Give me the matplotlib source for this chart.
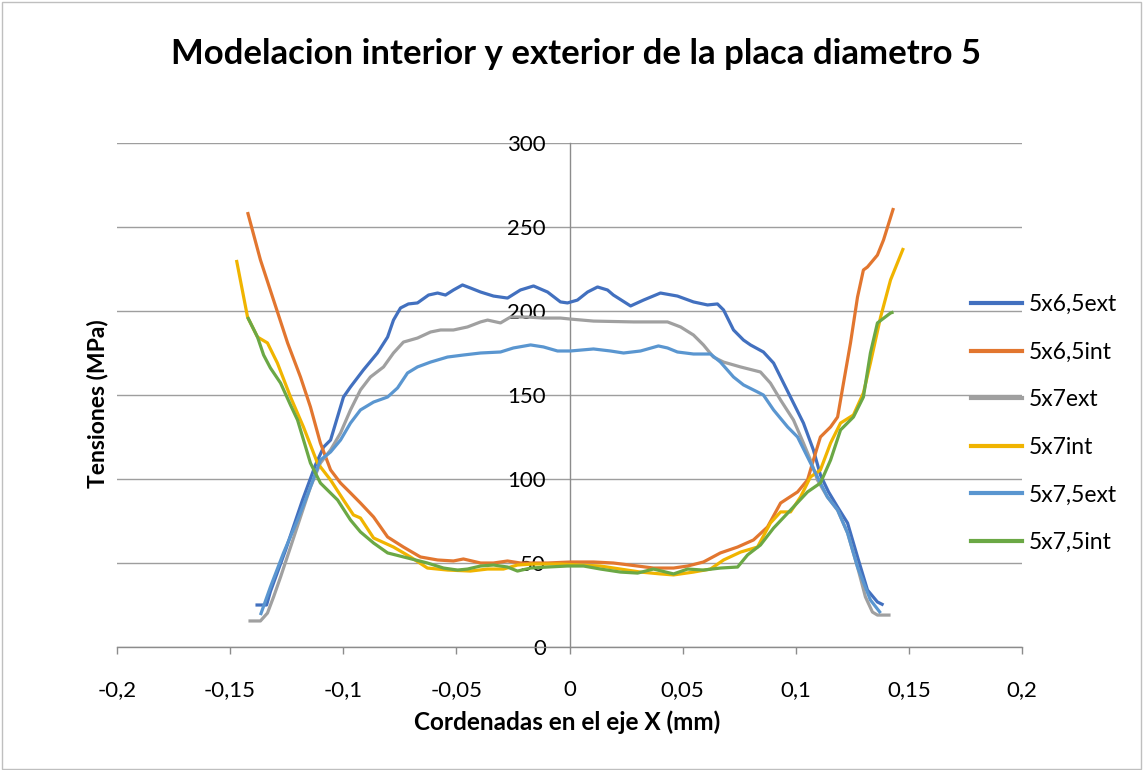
import matplotlib
matplotlib.use('Agg')
import matplotlib.pyplot as plt
from matplotlib.lines import Line2D
from matplotlib.patches import Rectangle

# ---------------- data ----------------
series_names = ["5x6,5ext", "5x6,5int", "5x7ext", "5x7int", "5x7,5ext", "5x7,5int"]

x_65ext = [-0.1388, -0.1339, -0.1322, -0.1255, -0.1180, -0.1123, -0.1087, -0.1056, -0.0999,
           -0.0968, -0.0911, -0.0849, -0.0804, -0.0778, -0.0747, -0.0712, -0.0672, -0.0623,
           -0.0583, -0.0548, -0.0513, -0.0473, -0.0438, -0.0393, -0.0336, -0.0274, -0.0217,
           -0.0159, -0.0097, -0.0040, -0.0009, 0.0035, 0.0080, 0.0124, 0.0168, 0.0194, 0.0270,
           0.0327, 0.0402, 0.0477, 0.0548, 0.0610, 0.0654, 0.0681, 0.0725, 0.0769, 0.0800,
           0.0857, 0.0902, 0.0946, 0.0990, 0.1034, 0.1078, 0.1109, 0.1145, 0.1185, 0.1229,
           0.1273, 0.1317, 0.1361, 0.1388]
y_65ext = [25.0, 25.0, 33.0, 57.7, 87.5, 108.3, 119.0, 123.2, 148.8,
           154.8, 164.9, 175.0, 184.5, 194.6, 201.8, 204.2, 204.8, 209.5,
           210.7, 209.5, 212.5, 215.5, 213.7, 211.3, 208.9, 207.7, 212.5,
           214.9, 211.3, 205.4, 204.8, 206.5, 211.3, 214.3, 212.5, 209.5, 203.0,
           206.5, 210.7, 208.9, 205.4, 203.6, 204.2, 200.6, 188.7, 182.7, 179.8,
           175.6, 169.0, 157.1, 145.2, 133.3, 117.3, 102.4, 92.3, 83.3, 73.8,
           53.6, 33.9, 26.8, 25.0]

x_65int = [-0.1423, -0.1366, -0.1308, -0.1246, -0.1189, -0.1145, -0.1101, -0.1056, -0.1012,
           -0.0968, -0.0924, -0.0866, -0.0804, -0.0734, -0.0659, -0.0583, -0.0513, -0.0469,
           -0.0393, -0.0336, -0.0274, -0.0217, -0.0097, 0.0004, 0.0106, 0.0194, 0.0301,
           0.0371, 0.0460, 0.0522, 0.0592, 0.0667, 0.0743, 0.0813, 0.0875, 0.0933, 0.1008,
           0.1052, 0.1078, 0.1109, 0.1154, 0.1185, 0.1211, 0.1242, 0.1273, 0.1299, 0.1317,
           0.1361, 0.1388, 0.1432]
y_65int = [258.9, 230.4, 206.5, 181.0, 160.7, 142.9, 121.4, 105.4, 97.6,
           91.7, 85.7, 77.4, 65.5, 59.5, 53.6, 51.8, 51.2, 52.4,
           50.0, 50.0, 51.2, 50.0, 50.0, 50.6, 50.6, 50.0, 48.2,
           47.0, 47.0, 48.2, 50.6, 56.0, 59.5, 63.7, 71.4, 85.7, 92.3,
           99.4, 111.3, 125.0, 131.0, 136.9, 157.1, 181.0, 208.3, 224.4, 226.2,
           233.3, 242.3, 261.3]

x_7ext = [-0.1419, -0.1366, -0.1335, -0.1308, -0.1277, -0.1233, -0.1189, -0.1145, -0.1101,
          -0.1056, -0.1012, -0.0968, -0.0924, -0.0880, -0.0822, -0.0778, -0.0734, -0.0672,
          -0.0614, -0.0570, -0.0513, -0.0451, -0.0393, -0.0362, -0.0305, -0.0261, -0.0186,
          -0.0115, -0.0040, 0.0004, 0.0106, 0.0283, 0.0433, 0.0491, 0.0548, 0.0592, 0.0636,
          0.0681, 0.0756, 0.0844, 0.0888, 0.0933, 0.0990, 0.1034, 0.1065, 0.1096, 0.1140,
          0.1185, 0.1229, 0.1273, 0.1308, 0.1339, 0.1361, 0.1419]
y_7ext = [15.5, 15.5, 20.2, 29.8, 41.7, 59.5, 77.4, 95.2, 109.5,
          117.3, 127.4, 141.1, 153.0, 160.7, 166.7, 175.0, 181.5, 183.9,
          187.5, 188.7, 188.7, 190.5, 193.5, 194.6, 192.9, 196.4, 196.4,
          195.8, 195.8, 195.2, 194.0, 193.5, 193.5, 190.5, 185.7, 179.8, 172.6,
          169.6, 166.7, 163.7, 157.1, 147.0, 135.1, 121.4, 111.3, 99.4, 89.3,
          81.5, 67.9, 47.6, 29.8, 20.8, 19.0, 19.0]

x_7int = [-0.1472, -0.1423, -0.1379, -0.1335, -0.1291, -0.1233, -0.1176, -0.1114, -0.1056,
          -0.0999, -0.0955, -0.0924, -0.0866, -0.0778, -0.0703, -0.0628, -0.0539, -0.0438,
          -0.0362, -0.0292, -0.0230, -0.0159, -0.0040, 0.0049, 0.0137, 0.0225, 0.0314,
          0.0402, 0.0460, 0.0548, 0.0623, 0.0681, 0.0756, 0.0831, 0.0888, 0.0933, 0.0977,
          0.1021, 0.1065, 0.1109, 0.1154, 0.1198, 0.1255, 0.1299, 0.1330, 0.1375, 0.1419,
          0.1476]
y_7int = [230.4, 196.4, 184.5, 181.0, 169.0, 148.8, 131.0, 109.5, 99.4,
          87.5, 78.6, 76.8, 64.9, 59.5, 53.6, 47.0, 45.8, 45.2,
          46.4, 46.4, 48.8, 49.4, 49.4, 48.8, 48.2, 46.4, 44.6,
          43.5, 42.9, 44.6, 46.4, 51.8, 56.5, 59.5, 73.8, 80.4, 80.4,
          89.3, 101.2, 105.4, 121.4, 133.3, 138.1, 151.2, 169.0, 196.4, 218.5,
          237.5]

x_75ext = [-0.1366, -0.1322, -0.1264, -0.1202, -0.1145, -0.1101, -0.1056, -0.1012, -0.0968,
           -0.0924, -0.0866, -0.0804, -0.0760, -0.0716, -0.0672, -0.0614, -0.0539, -0.0469,
           -0.0393, -0.0305, -0.0248, -0.0172, -0.0115, -0.0053, 0.0004, 0.0106, 0.0181,
           0.0239, 0.0314, 0.0393, 0.0433, 0.0477, 0.0548, 0.0623, 0.0667, 0.0725, 0.0769,
           0.0831, 0.0857, 0.0902, 0.0964, 0.1008, 0.1052, 0.1096, 0.1140, 0.1185, 0.1229,
           0.1273, 0.1330, 0.1375]
y_75ext = [19.0, 35.7, 56.0, 75.6, 95.2, 111.3, 116.1, 123.2, 133.3,
           141.1, 145.8, 148.8, 154.2, 163.1, 166.7, 169.6, 172.6, 173.8,
           175.0, 175.6, 178.0, 179.8, 178.6, 176.2, 176.2, 177.4, 176.2,
           175.0, 176.2, 179.2, 178.0, 175.6, 174.4, 174.4, 169.6, 160.7, 156.0,
           151.8, 150.0, 141.1, 131.0, 125.0, 113.1, 101.2, 89.3, 81.5, 67.9,
           47.6, 28.0, 20.2]

x_75int = [-0.1423, -0.1379, -0.1352, -0.1322, -0.1277, -0.1233, -0.1202, -0.1145, -0.1101,
           -0.1025, -0.0968, -0.0924, -0.0866, -0.0804, -0.0716, -0.0628, -0.0557, -0.0495,
           -0.0451, -0.0393, -0.0336, -0.0274, -0.0230, -0.0172, -0.0097, -0.0009, 0.0062,
           0.0137, 0.0225, 0.0301, 0.0371, 0.0460, 0.0522, 0.0592, 0.0667, 0.0743, 0.0787,
           0.0844, 0.0902, 0.0977, 0.1052, 0.1109, 0.1154, 0.1198, 0.1255, 0.1299, 0.1330,
           0.1361, 0.1419, 0.1432]
y_75int = [196.4, 184.5, 173.8, 166.1, 157.1, 144.0, 135.1, 109.5, 97.6,
           87.5, 75.6, 68.5, 61.9, 56.0, 53.0, 50.0, 47.0, 45.8,
           46.4, 48.2, 48.8, 47.6, 45.2, 47.0, 47.6, 48.2, 48.2,
           46.4, 44.6, 44.0, 46.4, 43.5, 46.4, 45.8, 47.0, 47.6, 54.8,
           60.7, 70.8, 81.5, 92.3, 97.6, 111.3, 129.2, 136.9, 148.8, 175.0,
           192.9, 198.8, 199.4]

x_ticks = [-0.2, -0.15, -0.1, -0.05, 0, 0.05, 0.1, 0.15, 0.2]
x_tick_labels = ["-0,2", "-0,15", "-0,1", "-0,05", "0", "0,05", "0,1", "0,15", "0,2"]
y_ticks = [0, 50, 100, 150, 200, 250, 300]

title = "Modelacion interior y exterior de la placa diametro 5"
x_label = "Cordenadas en el eje X (mm)"
y_label = "Tensiones (MPa)"

colors = ["#4270BF", "#E2762F", "#A0A0A0", "#F0B400", "#5A96D0", "#6BA845"]

# ---------------- figure ----------------
plt.rcParams['font.family'] = ['Lato', 'DejaVu Sans']
W, H = 1143, 770
fig = plt.figure(figsize=(W / 100, H / 100), dpi=100)
fig.patch.set_facecolor('white')
fig.add_artist(Rectangle((2 / W, 1 / H), (W - 4) / W, (H - 3) / H, transform=fig.transFigure,
                         fill=False, edgecolor='#BFBFBF', linewidth=1))

ax = fig.add_axes([117 / W, 1 - 647 / H, 905 / W, 504 / H])
ax.set_xlim(-0.2, 0.2)
ax.set_ylim(0, 300)

xs = [x_65ext, x_65int, x_7ext, x_7int, x_75ext, x_75int]
ys = [y_65ext, y_65int, y_7ext, y_7int, y_75ext, y_75int]
for xv, yv, c, name in zip(xs, ys, colors, series_names):
    ax.plot(xv, yv, color=c, lw=2.3, solid_joinstyle='round', solid_capstyle='butt',
            label=name, zorder=3)

ax.set_yticks(y_ticks)
ax.set_xticks(x_ticks)
ax.set_xticklabels(x_tick_labels)
ax.yaxis.grid(True, color='#9E9E9E', lw=1.0, zorder=0)
ax.set_axisbelow(True)

for s in ['top', 'right']:
    ax.spines[s].set_visible(False)
ax.spines['left'].set_position(('data', 0))
ax.spines['left'].set_color('#8C8C8C')
ax.spines['bottom'].set_color('#8C8C8C')
ax.spines['left'].set_linewidth(1.0)
ax.spines['bottom'].set_linewidth(1.0)
ax.tick_params(axis='y', length=0, pad=17, labelsize=16, colors='black')
ax.tick_params(axis='x', length=5, width=1, color='#8C8C8C', pad=19, labelsize=16,
               direction='out')

fig.text(576 / W, 1 - 54 / H, title, ha='center', va='center', fontsize=25, fontweight='bold')
fig.text(567 / W, 1 - 722 / H, x_label, ha='center', va='center', fontsize=17.5,
         fontweight='bold')
fig.text(97 / W, 1 - 404 / H, y_label, ha='center', va='center', fontsize=16.5,
         fontweight='bold', rotation=90)

handles = [Line2D([], [], color=c, lw=3) for c in colors]
fig.legend(handles, series_names, loc='center left', bbox_to_anchor=(971 / W, 1 - 423.5 / H),
           frameon=False, borderpad=0, borderaxespad=0, handlelength=2.23,
           handletextpad=0.3, labelspacing=1.16, fontsize=16.5)

fig.savefig('out.png', dpi=100)
